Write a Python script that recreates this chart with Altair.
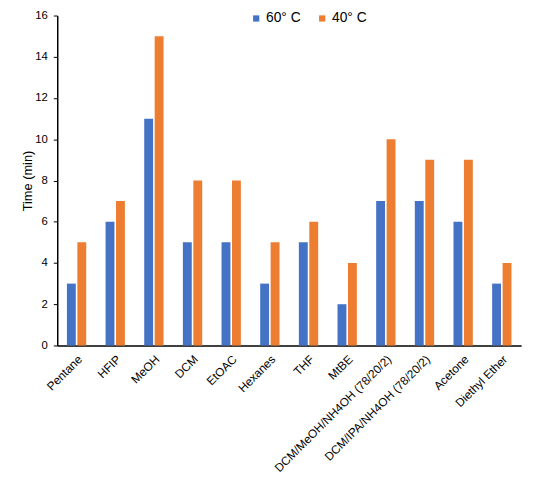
import altair as alt
import pandas as pd

categories = ["Pentane", "HFIP", "MeOH", "DCM", "EtOAC", "Hexanes", "THF", "MtBE",
              "DCM/MeOH/NH4OH (78/20/2)", "DCM/IPA/NH4OH (78/20/2)", "Acetone", "Diethyl Ether"]
series = ["60° C", "40° C"]
values_60 = [3, 6, 11, 5, 5, 3, 5, 2, 7, 7, 6, 3]
values_40 = [5, 7, 15, 8, 8, 5, 6, 4, 10, 9, 9, 4]
colors = ["#4472C4", "#ED7D31"]

rows = []
for c, a, b in zip(categories, values_60, values_40):
    rows.append({"solvent": c, "temp": series[0], "time": a})
    rows.append({"solvent": c, "temp": series[1], "time": b})
df = pd.DataFrame(rows)

FONT = "Liberation Sans"

chart = alt.Chart(df).mark_bar().encode(
    x=alt.X("solvent:N", sort=categories, title=None,
            scale=alt.Scale(paddingInner=0.5, paddingOuter=0.25),
            axis=alt.Axis(labelAngle=-45, ticks=False, labelFontSize=12, labelColor="#000000",
                          labelFont=FONT, domainColor="#000000", domainWidth=1.5, labelPadding=8,
                          labelLimit=300)),
    xOffset=alt.XOffset("temp:N", sort=series, scale=alt.Scale(paddingInner=0.15)),
    y=alt.Y("time:Q", title="Time (min)",
            scale=alt.Scale(domain=[0, 16]),
            axis=alt.Axis(values=[0, 2, 4, 6, 8, 10, 12, 14, 16], grid=False, tickColor="#000000",
                          tickSize=4, domainColor="#000000", domainWidth=1.5, labelFontSize=11.5,
                          labelColor="#000000", labelFont=FONT, titleFont=FONT, titleFontSize=13,
                          titleFontWeight="normal", titleColor="#000000", titlePadding=0,
                          labelPadding=6)),
    color=alt.Color("temp:N", sort=series,
                    scale=alt.Scale(domain=series, range=colors),
                    legend=alt.Legend(title=None, orient="none", direction="horizontal",
                                      legendX=195, legendY=-4, symbolType="square",
                                      symbolSize=40, symbolStrokeWidth=0, labelFontSize=14,
                                      labelFont=FONT, labelColor="#000000", columnPadding=14,
                                      labelOffset=3)),
).properties(
    width=471, height=335,
    autosize=alt.AutoSizeParams(type="none"),
    padding={"left": 50, "top": 4, "right": 9, "bottom": 136},
).configure_view(stroke=None)

chart.save("out.html", embed_options={"renderer": "svg", "actions": False})
